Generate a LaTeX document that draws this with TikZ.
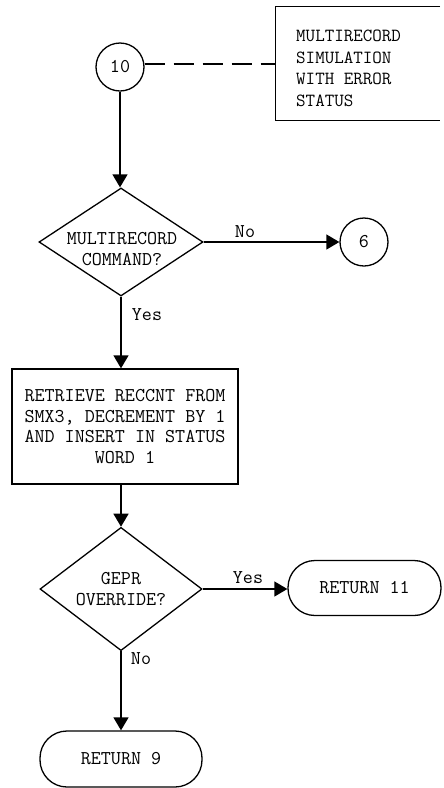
\documentclass[tikz,border=0pt]{standalone}
\usetikzlibrary{arrows.meta,shapes.geometric}
\begin{document}
\begin{tikzpicture}[x=1pt,y=-1pt,
  every node/.style={font=\ttfamily\fontsize{19.5pt}{20.5pt}\selectfont, inner sep=0pt},
  line/.style={line width=1.3pt},
  arr/.style={line, -{Triangle[length=13pt,width=15pt]}},
  conn/.style={draw, circle, line width=1.3pt, minimum size=48pt},
  decis/.style={draw, diamond, line width=1.3pt, minimum width=#1, minimum height=108pt},
  procbox/.style={draw, rectangle, line width=1.3pt},
  term/.style={draw, rectangle, rounded corners=27pt, line width=1.3pt, minimum height=55pt},
  lbl/.style={font=\ttfamily\fontsize{19.5pt}{20pt}\selectfont}
]
\useasboundingbox (0,0) rectangle (444,788);

% connector 10 and annotation
\node[conn] (c10) at (120,67) {10};
\node[minimum width=164pt, minimum height=113pt] (notebox) at (358,63.5) {};
\draw[line] (notebox.north east) -- (notebox.north west) -- (notebox.south west) -- (notebox.south east);
\node[anchor=west, align=left, font=\ttfamily\fontsize{18.5pt}{21.5pt}\selectfont] (note) at (296,68.5)
  {MULTIRECORD\\SIMULATION\\WITH ERROR\\STATUS};
\draw[line, dash pattern=on 20pt off 9pt] (c10.east |- 0,64) -- (notebox.west |- 0,64);

% decision 1
\node[decis=164pt] (d1) at (121,242) {};
\node[align=center] (d1t) at (122,249) {MULTIRECORD\\COMMAND?};
\draw[arr] (c10.south) -- (c10.south |- d1.north);

% connector 6
\node[conn] (c6) at (364,242) {6};
\draw[arr] (d1.east) -- (c6.west);
\node[lbl] (no1) at (245,232) {No};

% process box
\node[procbox, minimum width=226pt, minimum height=115pt, align=center] (b1) at (125,426.5)
  {RETRIEVE RECCNT FROM\\SMX3, DECREMENT BY 1\\AND INSERT IN STATUS\\WORD 1};
\draw[arr] (d1.south) -- (d1.south |- b1.north);
\node[lbl] (yes1) at (147,315) {Yes};

% decision 2
\node[decis=162pt, minimum height=109pt, align=center] (d2) at (121,589) {GEPR\\OVERRIDE?};
\draw[arr] (d1.south |- b1.south) -- (d2.north);

% returns
\node[term, minimum width=153pt] (r11) at (364.5,588) {RETURN 11};
\draw[arr] (d2.east) -- (d2.east -| r11.west);
\node[lbl] (yes2) at (248,578) {Yes};

\node[term, minimum width=162pt, minimum height=56pt] (r9) at (121,759) {RETURN 9};
\draw[arr] (d2.south) -- (r9.north);
\node[lbl] (no2) at (141,659) {No};
\end{tikzpicture}
\end{document}
